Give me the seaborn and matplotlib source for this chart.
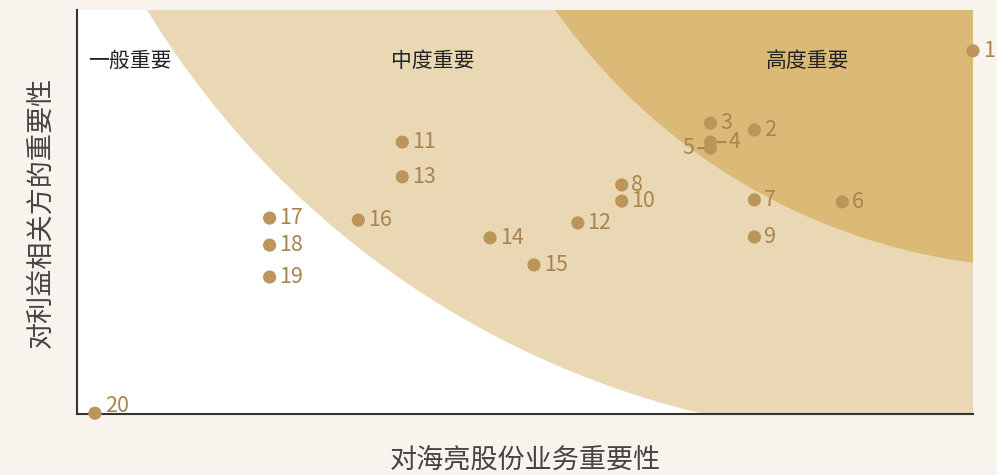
import matplotlib
matplotlib.use("Agg")
import matplotlib.pyplot as plt
from matplotlib.patches import Ellipse
import seaborn as sns
import pandas as pd

# ---- data ----
ids = ["1", "2", "3", "4", "5", "6", "7", "8", "9", "10",
       "11", "12", "13", "14", "15", "16", "17", "18", "19", "20"]
business_importance = [10.0, 7.56, 7.07, 7.07, 7.07, 8.54, 7.56, 6.08, 7.56, 6.08,
                       3.63, 5.59, 3.63, 4.61, 5.10, 3.14, 2.15, 2.15, 2.15, 0.20]
stakeholder_importance = [8.99, 7.03, 7.20, 6.73, 6.58, 5.25, 5.30, 5.67, 4.38, 5.27,
                          6.73, 4.73, 5.87, 4.36, 3.69, 4.80, 4.85, 4.18, 3.39, 0.02]
zone_labels = ["一般重要", "中度重要", "高度重要"]
x_label = "对海亮股份业务重要性"
y_label = "对利益相关方的重要性"

df = pd.DataFrame({"id": ids, "x": business_importance, "y": stakeholder_importance})

# ---- style ----
sns.set_theme(style="white")
plt.rcParams["font.family"] = ["Noto Sans CJK SC", "DejaVu Sans"]

BG = "#f8f4ed"
LIGHT = "#ead8b4"
DARK = "#dbb977"
DOT = "#bb955a"
LBL = "#a8844f"

fig = plt.figure(figsize=(9.97, 4.75), dpi=100, facecolor=BG)
ax = fig.add_axes([77 / 997, 61 / 475, 896 / 997, 404 / 475])
ax.set_facecolor("white")
ax.set_xlim(0, 10)
ax.set_ylim(0, 10)

# zones
ax.add_patch(Ellipse((9.30, 21.53), 19.96, 44.26, facecolor=LIGHT, edgecolor="none", zorder=0))
ax.add_patch(Ellipse((10.88, 18.64), 13.55, 30.05, facecolor=DARK, edgecolor="none", zorder=1))

sns.scatterplot(data=df, x="x", y="y", ax=ax, s=90, color=DOT, edgecolor="none",
                zorder=5, clip_on=False, legend=False)

FS = 15.5
for i, x, y in zip(df["id"], df["x"], df["y"]):
    if i == "4":
        ax.annotate("", xy=(x, y), xytext=(x + 0.20, y),
                    arrowprops=dict(arrowstyle="-", color=LBL, lw=1.5), zorder=4)
        ax.text(x + 0.20, y, i, color=LBL, fontsize=FS, va="center", ha="left", zorder=6)
    elif i == "5":
        ax.annotate("", xy=(x, y), xytext=(x - 0.17, y),
                    arrowprops=dict(arrowstyle="-", color=LBL, lw=1.5), zorder=4)
        ax.text(x - 0.18, y, i, color=LBL, fontsize=FS, va="center", ha="left" if False else "right", zorder=6)
    else:
        dy = 5 if i == "20" else 0
        ax.annotate(i, (x, y), xytext=(7, dy), textcoords="offset points",
                    color=LBL, fontsize=FS, va="center", ha="left",
                    annotation_clip=False, zorder=6)

# zone labels
ax.text(0.59, 8.74, zone_labels[0], fontsize=15, color="#222222", ha="center", va="center")
ax.text(3.97, 8.74, zone_labels[1], fontsize=15, color="#222222", ha="center", va="center")
ax.text(8.15, 8.74, zone_labels[2], fontsize=15, color="#222222", ha="center", va="center")

ax.set_xlabel(x_label, fontsize=19.5, color="#444444", labelpad=24)
ax.set_ylabel(y_label, fontsize=19.5, color="#444444", labelpad=16)
ax.set_xticks([])
ax.set_yticks([])
for s in ["top", "right"]:
    ax.spines[s].set_visible(False)
for s in ["left", "bottom"]:
    ax.spines[s].set_color("#333333")
    ax.spines[s].set_linewidth(1.5)
    ax.spines[s].set_zorder(3)

fig.savefig("out.png", dpi=100, facecolor=BG)
